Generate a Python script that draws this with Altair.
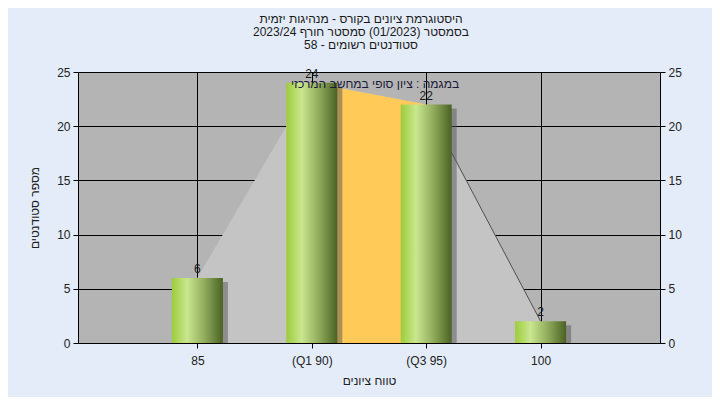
import json
import altair as alt
import pandas as pd

# ---- data ----
categories = ["85", "(Q1 90)", "(Q3 95)", "100"]
counts = [6, 24, 22, 2]
title_lines = [
    "היסטוגרמת ציונים בקורס - מנהיגות יזמית",
    "בסמסטר  (01/2023)  סמסטר חורף 2023/24",
    "סטודנטים רשומים - 58",
]
legend_text = "במגמה : ציון סופי במחשב המרכזי"
x_title = "טווח ציונים"
y_title = "מספר סטודנטים"
q1_index, q3_index = 2, 3

positions = list(range(1, len(categories) + 1))
df = pd.DataFrame({"pos": positions, "cat": categories, "n": counts})
df_q = df[(df.pos >= q1_index) & (df.pos <= q3_index)]
df_tail = df[df.pos >= q3_index]

W, H = 582, 271
FONT = "Liberation Sans"

label_arr = json.dumps([""] + categories + [""], ensure_ascii=False)

xscale = alt.Scale(domain=[0, len(categories) + 1], nice=False, zero=False)
yscale = alt.Scale(domain=[0, 25], nice=False)

x_axis = alt.Axis(
    values=positions, labelExpr=f"{label_arr}[datum.value]", title=x_title,
    grid=True, gridColor="black", gridOpacity=1, gridWidth=1,
    domainColor="black", tickColor="black", tickSize=5,
    labelFont=FONT, labelFontSize=12, labelColor="#222222", labelPadding=7,
    titleFont=FONT, titleFontSize=12, titleFontWeight="normal", titleColor="#222222",
    titlePadding=9,
)
y_axis_left = alt.Axis(
    values=[0, 5, 10, 15, 20, 25], title=y_title,
    grid=True, gridColor="black", gridOpacity=1, gridWidth=1,
    domainColor="black", tickColor="black", tickSize=5,
    labelFont=FONT, labelFontSize=12, labelColor="#222222", labelPadding=3,
    titleFont=FONT, titleFontSize=12, titleFontWeight="normal", titleColor="#222222",
    titlePadding=15,
)
y_axis_right = alt.Axis(
    orient="right", values=[0, 5, 10, 15, 20, 25], title=None, grid=False,
    domainColor="black", tickColor="black", tickSize=5,
    labelFont=FONT, labelFontSize=12, labelColor="#222222", labelPadding=3,
)

base = alt.Chart(df)

area = base.mark_area(color="#c4c4c4", opacity=1).encode(
    x=alt.X("pos:Q", scale=xscale, axis=x_axis),
    y=alt.Y("n:Q", scale=yscale, axis=y_axis_left),
)
area_q = alt.Chart(df_q).mark_area(color="#ffca58", opacity=1).encode(
    x=alt.X("pos:Q", scale=xscale), y=alt.Y("n:Q", scale=yscale, axis=None),
)
tail_line = alt.Chart(df_tail).mark_line(color="#505050", strokeWidth=1).encode(
    x=alt.X("pos:Q", scale=xscale), y=alt.Y("n:Q", scale=yscale, axis=None),
)

shadow = base.mark_bar(size=51, color="#555555", opacity=0.5, xOffset=5, yOffset=4).encode(
    x=alt.X("pos:Q", scale=xscale), y=alt.Y("n:Q", scale=yscale, axis=None), y2=alt.datum(0),
)
grad = alt.Gradient(
    gradient="linear", x1=0, x2=1, y1=0, y2=0,
    stops=[
        alt.GradientStop(color="#9dcc3b", offset=0),
        alt.GradientStop(color="#c9e78f", offset=0.3),
        alt.GradientStop(color="#8fa95a", offset=0.65),
        alt.GradientStop(color="#4a6223", offset=1),
    ],
)
bars = base.mark_bar(size=51, color=grad).encode(
    x=alt.X("pos:Q", scale=xscale), y=alt.Y("n:Q", scale=yscale, axis=None), y2=alt.datum(0),
)
labels = base.mark_text(baseline="bottom", dy=-2, font=FONT, fontSize=12, color="#1a1a1a").encode(
    x=alt.X("pos:Q", scale=xscale), y=alt.Y("n:Q", scale=yscale, axis=None), text="n:Q",
)
legend = alt.Chart(pd.DataFrame({"t": [legend_text]})).mark_text(
    font=FONT, fontSize=12, color="#1a1a3a", baseline="middle", align="center",
).encode(x=alt.value(297), y=alt.value(12), text="t:N")

right_axis = base.mark_point(opacity=0).encode(
    x=alt.X("pos:Q", scale=xscale), y=alt.Y("n:Q", scale=yscale, axis=y_axis_right),
)

chart = alt.layer(
    area, area_q, tail_line, shadow, bars, labels, legend, right_axis
).resolve_axis(y="independent").properties(
    width=W, height=H,
    autosize=alt.AutoSizeParams(type="none"),
    padding={"left": 70, "top": 64, "right": 52, "bottom": 54},
    title=alt.Title(
        title_lines, anchor="middle", font=FONT, fontSize=12, fontWeight="normal",
        color="#1a1a1a", offset=14, dx=-8, lineHeight=13,
    ),
).configure(background="#e3ecf8").configure_view(fill="#b4b4b4", stroke=None)

chart.save("out.html", embed_options={"renderer": "svg", "actions": False})
